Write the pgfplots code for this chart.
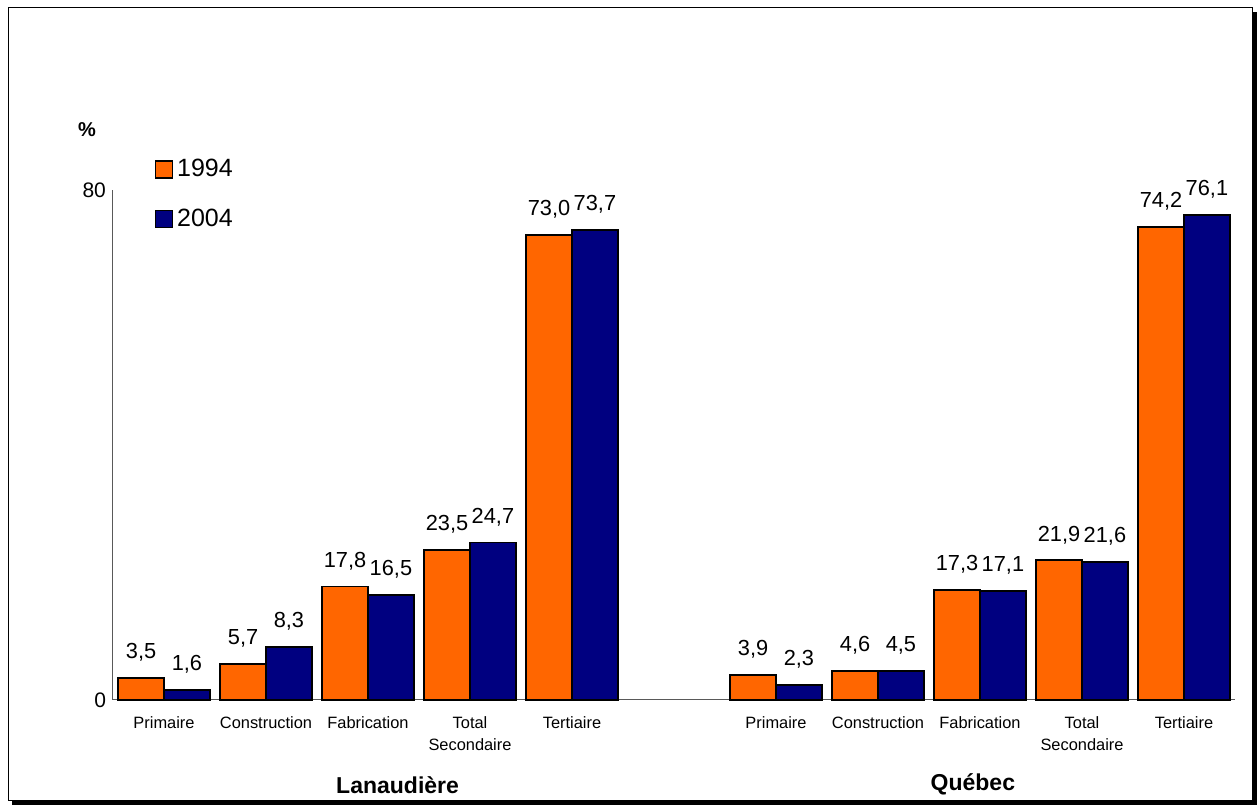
\documentclass[border=0pt]{standalone}
\usepackage{pgfplots}
\pgfplotsset{compat=1.18}
\usepackage{fontspec}
\setmainfont{Liberation Sans}
\definecolor{orng}{HTML}{FF6600}
\definecolor{navy}{HTML}{000080}
\begin{document}
\begin{tikzpicture}
% page bounds and frame
\path (0pt,0pt) rectangle (630pt,403pt);
\fill[black] (626pt,0.5pt) rectangle (628.5pt,397pt);
\fill[black] (6pt,0.5pt) rectangle (628.5pt,2.5pt);
\draw[black, line width=0.5pt] (4pt,2.5pt) rectangle (626pt,399pt);
\begin{axis}[
  at={(56.5pt,53pt)}, anchor=south west,
  scale only axis, width=561pt, height=255pt,
  xmin=-0.5, xmax=10.5, ymin=0, ymax=80,
  axis lines*=left,
  axis line style={gray!70!black, line width=0.5pt},
  ybar=0pt, bar width=0.45,
  xtick={0,1,2,3,4,6,7,8,9,10},
  xticklabels={Primaire,Construction,Fabrication,{Total\\Secondaire},Tertiaire,Primaire,Construction,Fabrication,{Total\\Secondaire},Tertiaire},
  xticklabel style={font=\fontsize{8.2}{11}\selectfont, align=center, anchor=north, yshift=-5pt},
  ytick={0,80},
  yticklabel style={font=\fontsize{10.5}{12}\selectfont},
  /pgf/number format/assume math mode=true,
  major tick length=0pt,
  clip=false,
  nodes near coords={\pgfmathprintnumber[fixed,fixed zerofill,precision=1,use comma,assume math mode=true]{\pgfplotspointmeta}},
  every node near coord/.append style={font=\fontsize{10.9}{12}\selectfont, yshift=4.5pt, black},
  legend style={at={(0.037,1.069)}, anchor=north west, draw=none, fill=none,
    font=\fontsize{12.5}{15}\selectfont, row sep=10.5pt, inner sep=0pt,
    /tikz/every even column/.append style={column sep=3pt}},
  legend image code/.code={\draw[#1, draw=black, line width=0.6pt] (0pt,-4.25pt) rectangle (8.5pt,4.25pt);},
  legend cell align=left,
]
\addplot[fill=orng, draw=black, line width=0.9pt] coordinates {
  (0,3.5) (1,5.7) (2,17.8) (3,23.5) (4,73.0)
  (6,3.9) (7,4.6) (8,17.3) (9,21.9) (10,74.2)};
\addplot[fill=navy, draw=black, line width=0.9pt] coordinates {
  (0,1.6) (1,8.3) (2,16.5) (3,24.7) (4,73.7)
  (6,2.3) (7,4.5) (8,17.1) (9,21.6) (10,76.1)};
\legend{1994,2004}
\node[font=\bfseries\fontsize{11.5}{13}\selectfont] at (axis cs:2.29,-13.3) {Lanaudière};
\node[font=\bfseries\fontsize{11.5}{13}\selectfont] at (axis cs:7.93,-13.3) {Québec};
\node[font=\bfseries\fontsize{10}{12}\selectfont] at (axis cs:-0.755,89.4) {\%};
\end{axis}
\end{tikzpicture}
\end{document}
